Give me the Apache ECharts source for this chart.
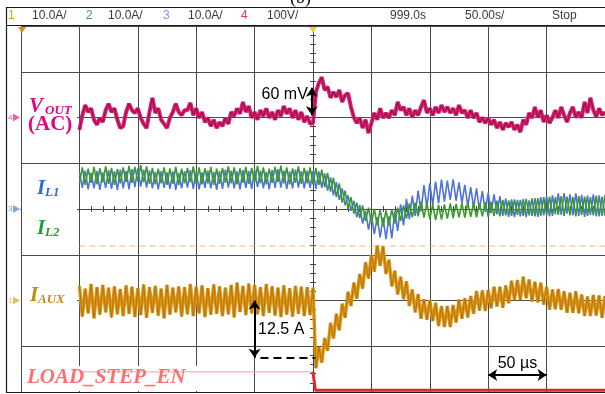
<!DOCTYPE html>
<html><head><meta charset="utf-8">
<script src="https://cdn.jsdelivr.net/npm/echarts@6/dist/echarts.min.js"></script>
<style>html,body{margin:0;padding:0;background:#fff}#c{width:605px;height:394px}</style>
</head><body><div id="c"></div>
<script>
// sampling: first sample time and spacing (µs); time base 50 µs/div, trigger at t = 0
const T0 = -200, DT = 2.5;
// ch4 VOUT (AC), mV, 100 mV/div
const vout = [-27,5,27,12,20,-5,-16,-1,-10,16,30,12,20,-5,-23,-19,12,30,16,10,20,-1,-14,-23,12,43,10,20,-5,-14,-23,-1,12,30,12,5,16,
16,32,5,20,-1,12,-10,-1,-19,-5,-23,-10,-19,-1,-14,12,3,20,8,34,12,25,-1,12,-5,16,3,20,-1,12,-5,16,3,25,8,20,-1,16,-5,12,-10,3,-14,
-12,56,75,88,60,67,43,56,45,60,34,49,53,23,0,-12,-1,-23,-5,-34,-12,10,-5,20,-1,10,-1,16,5,34,16,23,5,20,0,16,5,23,38,10,
20,5,23,10,27,12,23,10,20,5,27,10,16,-1,16,-1,10,-10,0,-12,-1,-16,-5,-23,-10,-27,-12,-21,-10,-27,-16,-32,-5,-16,10,-1,23,0,16,-10,
5,-12,0,16,-1,23,5,-10,10,23,0,12,-1,34,10,43,16,2,20,5,12];
// ch3 IL1, A, 10 A/div
const iL1 = [8.1,4.6,8.4,4.3,7.9,4.5,8.3,4.2,8.0,4.6,8.5,4.4,8.2,4.1,8.6,4.5,8.3,4.3,8.7,4.8,
8.9,4.9,8.6,4.7,8.4,4.5,8.1,4.3,8.3,4.6,8.0,4.4,8.2,4.2,7.9,4.5,8.3,4.7,8.5,4.4,
8.2,4.3,8.0,4.6,8.4,4.5,8.1,4.2,8.3,4.4,8.6,4.7,8.4,4.5,8.2,4.3,8.5,4.6,8.3,4.4,
8.6,4.8,8.4,4.5,8.1,4.3,8.5,4.6,8.7,4.7,8.4,4.4,8.2,4.5,8.6,4.7,8.3,4.5,8.4,4.6,
8.3,4.4,8.2,4.6,7.8,4.0,6.9,3.0,5.9,2.0,4.5,0.8,3.0,-0.4,1.8,-1.8,0.9,-3.2,-0.4,-4.5,
-1.2,-5.5,-1.8,-6.2,-1.9,-6.6,-1.6,-6.4,-0.5,-4.8,1.0,-3.6,2.2,-2.2,2.9,-1.5,4.0,-0.5,5.2,0.3,
5.6,0.9,6.0,1.2,6.4,1.6,6.2,2.0,6.5,1.8,5.8,1.3,5.3,0.6,4.8,0.3,4.5,-0.2,3.9,-0.6,
3.6,-0.9,3.2,-1.2,2.8,-1.5,2.3,-1.7,2.1,-1.8,2.0,-1.6,2.2,-1.8,1.9,-1.5,2.4,-1.7,2.6,-1.4,
2.8,-1.6,3.0,-1.2,3.4,-1.3,3.5,-1.0,3.2,-1.4,3.4,-1.5,3.1,-1.7,2.9,-1.3,3.2,-1.6,3.0,-1.5,3.1];
// ch2 IL2, A, 10 A/div
const iL2 = [5.6,9.1,5.3,8.8,5.7,9.2,5.4,8.9,5.8,9.3,5.5,9.0,5.3,8.7,5.6,9.1,5.9,9.4,5.7,9.2,
6.0,9.6,5.8,9.3,5.5,9.0,5.4,8.8,5.6,9.1,5.3,8.9,5.5,9.2,5.2,8.8,5.6,9.0,5.8,9.3,
5.5,9.1,5.4,8.9,5.6,9.2,5.3,8.8,5.5,9.0,5.7,9.3,5.6,9.1,5.4,8.9,5.7,9.2,5.5,9.0,
5.8,9.4,5.6,9.1,5.4,8.8,5.7,9.2,5.9,9.5,5.6,9.1,5.4,8.9,5.7,9.3,5.5,9.0,5.6,9.1,
5.4,9.0,5.2,8.6,4.8,7.9,3.8,6.8,2.6,5.6,1.4,4.0,0.0,2.6,-1.0,1.4,-2.0,0.8,-2.6,0.3,
-3.0,0.0,-3.5,-0.2,-3.8,-0.3,-3.6,-0.1,-3.2,0.3,-2.6,0.8,-2.1,1.2,-1.8,1.4,-1.6,1.6,-1.9,1.3,
-2.2,1.0,-2.4,0.9,-2.3,1.0,-2.1,1.2,-2.0,1.1,-1.8,1.3,-1.9,1.4,-1.7,1.2,-1.8,1.3,-1.6,1.5,
-1.7,1.6,-1.5,1.8,-1.6,2.0,-1.4,1.9,-1.5,2.1,-1.3,2.0,-1.5,2.2,-1.4,2.3,-1.6,2.4,-1.5,2.6,
-1.4,2.7,-1.5,2.6,-1.3,2.8,-1.5,2.7,-1.4,2.6,-1.6,2.8,-1.3,2.7,-1.5,2.6,-1.4,2.9,-1.6,2.7,-1.5];
// ch1 IAUX, A, 10 A/div
const iAux = [3.2,-3.5,2.6,-2.8,3.6,-3.9,2.9,-3.1,3.4,-2.6,2.8,-3.7,3.1,-3.0,2.5,-3.4,3.3,-2.9,3.0,-3.6,
2.7,-3.2,3.5,-3.8,2.9,-2.7,3.2,-3.3,2.6,-3.9,3.4,-3.1,2.8,-2.6,3.1,-3.5,2.9,-3.0,3.6,-3.4,
3.0,-2.8,3.3,-3.6,2.7,-3.1,3.5,-2.9,3.1,-3.4,2.8,-3.0,3.4,-3.7,3.9,-2.5,3.2,-3.2,3.7,-2.8,
3.4,-3.0,2.9,-3.4,3.6,-2.7,3.1,-3.3,2.8,-3.6,3.3,-3.1,2.7,-3.5,3.2,-2.9,3.0,-3.4,2.9,-3.2,
2.8,-14.8,-10.2,-13.6,-8.2,-11.0,-4.9,-8.3,-2.9,-6.5,-0.7,-3.8,1.9,-1.2,3.9,0.4,5.8,2.6,8.4,4.8,
10.0,6.3,12.0,7.6,11.8,5.8,8.9,3.1,6.5,1.3,5.2,0.3,4.2,-1.2,2.4,-2.6,1.4,-4.0,0.3,-4.2,
0.1,-4.5,-0.5,-5.6,-1.2,-5.8,-1.2,-5.8,-1.0,-4.8,0.2,-4.0,0.5,-3.7,1.0,-2.9,2.1,-2.2,2.2,-2.3,
2.3,-1.7,3.0,-1.3,3.0,-1.6,3.3,-0.6,4.3,0.1,4.5,0.1,5.2,0.5,4.6,-0.2,4.1,-0.4,3.9,-0.9,
3.0,-2.0,2.4,-1.9,2.5,-2.0,2.0,-2.7,1.7,-2.7,2.0,-2.8,1.3,-3.4,0.9,-3.4,1.2,-3.3,1.1,-3.8,1.0];
// LOAD_STEP_EN logic trace (screen divisions)
const loadT = [-200, 0, 2, 250];
const loadLv = [-3.56, -3.56, -3.96, -3.96];
const trigLevel = -0.81;      // divisions
// annotations
const voutArrow = [5, 65];     // mV  (60 mV)
const auxStep = [0, -12.5];    // A   (12.5 A)
const timeArrow = [150, 200];  // µs  (50 µs)

const pts = a => a.map((v, i) => [T0 + i * DT, v]);
const chart = echarts.init(document.getElementById('c'), null, {renderer: 'canvas'});

const gridCol = '#4a4a4a';
const baseAx = {
  type: 'value', axisLabel: {show: false},
  axisLine: {show: true, onZero: true, onZeroAxisIndex: 0, lineStyle: {color: '#444', width: 1}},
  axisTick: {show: true, length: 3, lineStyle: {color: '#444'}},
  minorTick: {show: true, splitNumber: 5, length: 3, lineStyle: {color: '#444'}}
};
const xa = {min: -250, max: 250, interval: 50};
const ya = {min: -4, max: 4, interval: 1};

chart.setOption({
  animation: false,
  backgroundColor: '#fff',
  grid: {left: 21, top: 26, right: -4, bottom: 2, containLabel: false},
  xAxis: [
    Object.assign({}, baseAx, xa, {position: 'bottom', splitLine: {show: true, lineStyle: {color: gridCol, width: 1}}}),
    Object.assign({}, baseAx, xa, {position: 'top', splitLine: {show: false}})
  ],
  yAxis: [
    Object.assign({}, baseAx, ya, {position: 'left', splitLine: {show: true, lineStyle: {color: gridCol, width: 1}}}),
    {type: 'value', min: -600, max: 200, show: false},
    {type: 'value', min: -40, max: 40, show: false},
    {type: 'value', min: -20, max: 60, show: false},
    Object.assign({}, baseAx, ya, {position: 'right', splitLine: {show: false}})
  ],
  series: [
    {type: 'line', yAxisIndex: 0, showSymbol: false, z: 3,
     data: [[loadT[0], loadLv[0]], [loadT[1], loadLv[1]]],
     lineStyle: {color: '#f5a0a0', width: 1}},
    {type: 'line', yAxisIndex: 0, showSymbol: false, z: 3,
     data: [[loadT[1], loadLv[1]], [loadT[2], loadLv[2]], [loadT[3], loadLv[3]]],
     lineStyle: {color: '#e4262a', width: 3},
     markLine: {silent: true, symbol: ['arrow', 'arrow'], symbolSize: 9, label: {show: false},
       lineStyle: {color: '#000', width: 2, type: 'solid'},
       data: [[{coord: [timeArrow[0], -3.63]}, {coord: [timeArrow[1], -3.63]}]]}},
    {type: 'line', yAxisIndex: 0, showSymbol: false, z: 2,
     data: [[T0, trigLevel], [250, trigLevel]],
     lineStyle: {color: '#f0a850', width: 1, type: [6, 4], opacity: 0.8}},
    {type: 'line', yAxisIndex: 1, showSymbol: false, data: pts(vout),
     lineStyle: {color: '#dc2070', width: 4}},
    {type: 'line', yAxisIndex: 1, showSymbol: false, data: pts(vout),
     lineStyle: {color: '#9c1050', width: 1.2},
     markLine: {silent: true, symbol: ['arrow', 'arrow'], symbolSize: 9, label: {show: false},
       lineStyle: {color: '#000', width: 2, type: 'solid'},
       data: [[{coord: [-1, voutArrow[0]]}, {coord: [-1, voutArrow[1]]}]]}},
    {type: 'line', yAxisIndex: 2, showSymbol: false, data: pts(iL1),
     lineStyle: {color: '#4f72dc', width: 1.6}},
    {type: 'line', yAxisIndex: 2, showSymbol: false, data: pts(iL2),
     lineStyle: {color: '#3a9a2a', width: 1.6}},
    {type: 'line', yAxisIndex: 3, showSymbol: false, data: pts(iAux),
     lineStyle: {color: '#e3960f', width: 3.4}},
    {type: 'line', yAxisIndex: 3, showSymbol: false, data: pts(iAux),
     lineStyle: {color: '#a8731a', width: 0.9},
     markLine: {silent: true, label: {show: false}, symbolSize: 9,
       data: [
         [{coord: [-50, auxStep[0]], symbol: 'arrow', lineStyle: {color: '#000', width: 2, type: 'solid'}},
          {coord: [-50, auxStep[1]], symbol: 'arrow'}],
         [{coord: [-45, auxStep[1]], symbol: 'none', lineStyle: {color: '#000', width: 2, type: [8, 5]}},
          {coord: [2, auxStep[1]], symbol: 'none'}]
       ]}}
  ]
});

// ---------- decorations ----------
const G = [];
const T = (x, y, s, st, z) => G.push({type: 'text', x: x, y: y, z: z || 100, silent: true,
  style: Object.assign({text: s, align: 'left', verticalAlign: 'middle', fontFamily: 'Liberation Sans', fontSize: 12, fill: '#333'}, st)});
const R = (x, y, w, h) => G.push({type: 'rect', z: 1, silent: true, shape: {x: x, y: y, width: w, height: h}, style: {fill: '#fff'}});
const L = (x1, y1, x2, y2, c, w) => G.push({type: 'line', z: 50, silent: true, shape: {x1: x1, y1: y1, x2: x2, y2: y2}, style: {stroke: c, lineWidth: w}});

// frame & header
L(6.5, 7, 6.5, 392.5, '#1a1a1a', 1.2);
L(6, 7.5, 605, 7.5, '#1a1a1a', 1.2);
L(6, 25.5, 605, 25.5, '#1a1a1a', 1);
L(6, 392.5, 605, 392.5, '#1a1a1a', 1.2);
const hdr = {fontFamily: 'Liberation Sans', fontSize: 12, fill: '#3a3a3a'};
T(8, 16, '1', Object.assign({}, hdr, {fill: '#e39a1c'}));
T(32, 16, '10.0A/', hdr);
T(86, 16, '2', Object.assign({}, hdr, {fill: '#3aa84a'}));
T(108, 16, '10.0A/', hdr);
T(163, 16, '3', Object.assign({}, hdr, {fill: '#7a96e0'}));
T(188, 16, '10.0A/', hdr);
T(241, 16, '4', Object.assign({}, hdr, {fill: '#e0307e'}));
T(267, 16, '100V/', hdr);
T(390, 16, '999.0s', hdr);
T(465, 16, '50.00s/', hdr);
T(552, 16, 'Stop', hdr);
T(290, 7, '(b)', {fontFamily: 'Liberation Serif', fontSize: 18, fill: '#000', verticalAlign: 'bottom'});

// white label boxes
R(22, 92, 55, 46);
R(22, 165, 55, 86);
R(22, 282, 55, 34);
R(22, 366, 176, 25);

// channel labels
const ser = {fontFamily: 'Liberation Serif', fontWeight: 'bold', fontStyle: 'italic'};
const lab = (x, y, s, size, col, extra) => T(x, y, s, Object.assign({}, ser, {fontSize: size, fill: col}, extra || {}));
lab(29, 106.5, 'V', 21, '#e8007f');
lab(45, 110.5, 'OUT', 13, '#e8007f');
lab(28, 125, '(AC)', 21, '#e8007f', {fontStyle: 'normal'});
lab(37, 189, 'I', 21, '#2b6de0');
lab(45, 193, 'L1', 13, '#2b6de0');
lab(37, 229, 'I', 21, '#1f9e3a');
lab(45, 233, 'L2', 13, '#1f9e3a');
lab(30, 296, 'I', 21, '#c48a0c');
lab(38, 300, 'AUX', 13, '#c48a0c');
lab(27, 378, 'LOAD_STEP_EN', 21, '#ff6f6f');

// channel ground markers (at each channel's zero)
const mk = (yi, col, n) => {
  const p = chart.convertToPixel({xAxisIndex: 0, yAxisIndex: yi}, [-250, 0]);
  const y = p[1];
  G.push({type: 'polygon', z: 60, silent: true, shape: {points: [[13, y - 4], [20, y], [13, y + 4]]}, style: {fill: col, opacity: 0.75}});
  T(8, y, n, {fontSize: 8, fill: col, opacity: 0.8});
};
mk(1, '#e0307e', '4');
mk(2, '#5a86c8', '3');
mk(3, '#e0a830', '1');
// trigger position markers
const tp = chart.convertToPixel({xAxisIndex: 0, yAxisIndex: 0}, [0, 4]);
G.push({type: 'polygon', z: 60, silent: true, shape: {points: [[18, 27], [26, 27], [22, 33]]}, style: {fill: '#e08a10'}});
G.push({type: 'polygon', z: 60, silent: true, shape: {points: [[tp[0] - 4, 27], [tp[0] + 4, 27], [tp[0], 33]]}, style: {fill: '#e8d040'}});

// annotation texts placed through the axes
const ann = {fontFamily: 'Liberation Sans', fontSize: 16, fill: '#000'};
let p = chart.convertToPixel({xAxisIndex: 0, yAxisIndex: 1}, [-1, 49]);
T(p[0] - 4, p[1], '60 mV', Object.assign({}, ann, {align: 'right'}));
p = chart.convertToPixel({xAxisIndex: 0, yAxisIndex: 3}, [-47, -6.4]);
T(p[0], p[1], '12.5 A', ann);
p = chart.convertToPixel({xAxisIndex: 0, yAxisIndex: 0}, [(timeArrow[0] + timeArrow[1]) / 2, -3.37]);
T(p[0], p[1], '50 µs', Object.assign({}, ann, {align: 'center'}));

chart.setOption({graphic: {elements: G}});
</script></body></html>
